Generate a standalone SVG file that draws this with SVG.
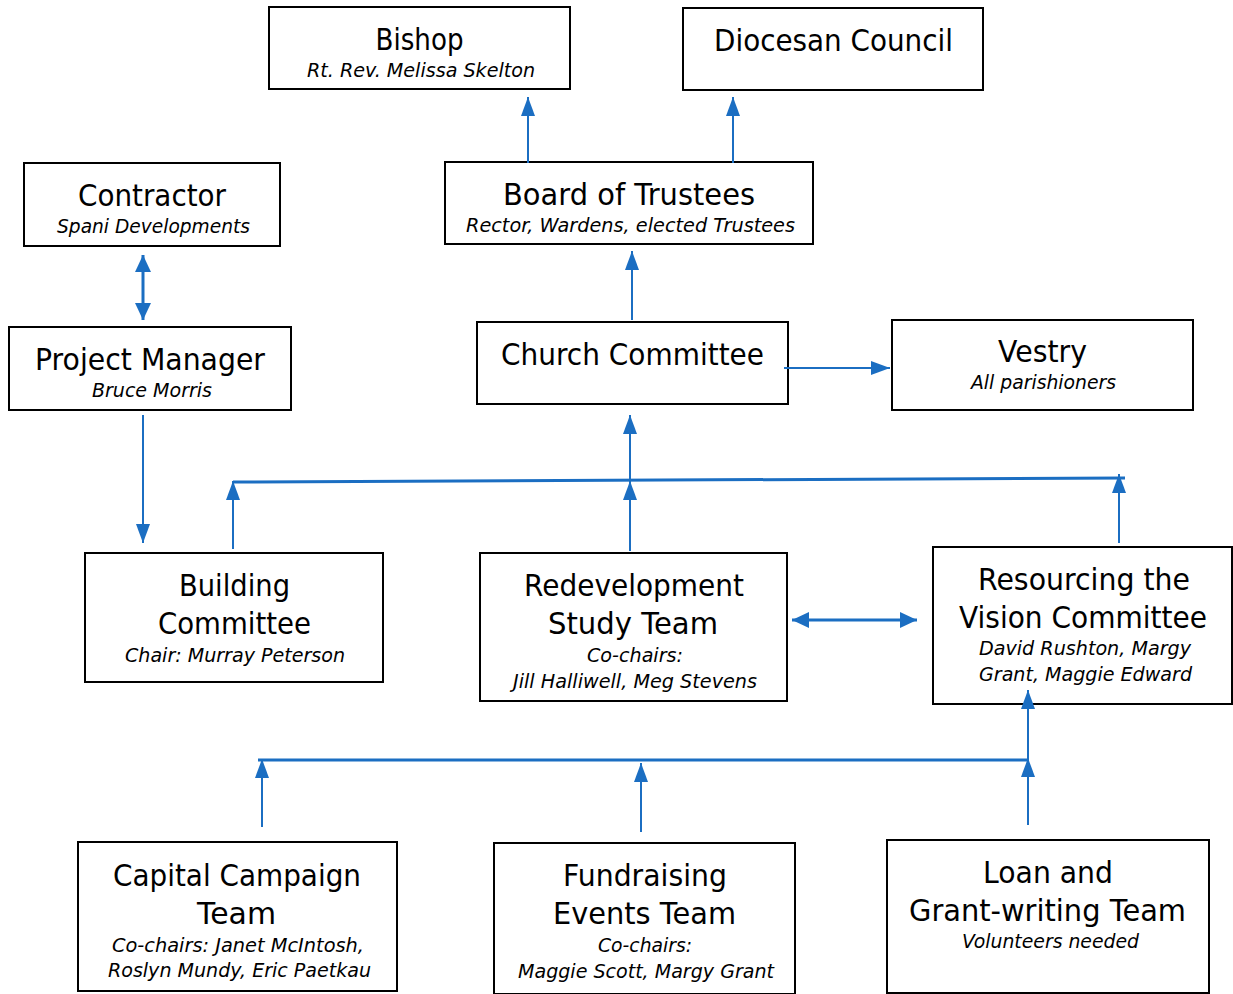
<svg xmlns="http://www.w3.org/2000/svg" width="1233" height="994" viewBox="0 0 1233 994">
<style>
.box{fill:#fff;stroke:#000;stroke-width:2}
.t{font-family:"DejaVu Sans","Liberation Sans",sans-serif;font-size:30px;fill:#000;text-anchor:middle}
.s{font-family:"DejaVu Sans","Liberation Sans",sans-serif;font-size:20px;font-style:italic;fill:#000;text-anchor:middle}
.c{stroke:#1B6EC2;stroke-width:2;fill:none}
.k{stroke:#1B6EC2;stroke-width:3;fill:none}
</style>
<defs>
<marker id="a" markerUnits="userSpaceOnUse" markerWidth="19" markerHeight="14" refX="19" refY="7" orient="auto-start-reverse"><path d="M0,0 L19,7 L0,14 z" fill="#1B6EC2"/></marker>
<marker id="b" markerUnits="userSpaceOnUse" markerWidth="17" markerHeight="16" refX="17" refY="8" orient="auto-start-reverse"><path d="M0,0 L17,8 L0,16 z" fill="#1B6EC2"/></marker>
</defs>
<g id="bishop">
<rect class="box" x="269" y="7" width="301" height="82"/>
<text class="t" x="419.5" y="50" textLength="88" lengthAdjust="spacingAndGlyphs">Bishop</text>
<text class="s" x="421" y="77" textLength="228" lengthAdjust="spacingAndGlyphs">Rt. Rev. Melissa Skelton</text>
</g>
<g id="diocesan-council">
<rect class="box" x="683" y="8" width="300" height="82"/>
<text class="t" x="833.5" y="51" textLength="239" lengthAdjust="spacingAndGlyphs">Diocesan Council</text>
</g>
<g id="contractor">
<rect class="box" x="24" y="163" width="256" height="83"/>
<text class="t" x="152" y="206" textLength="148" lengthAdjust="spacingAndGlyphs">Contractor</text>
<text class="s" x="153.5" y="233" textLength="193" lengthAdjust="spacingAndGlyphs">Spani Developments</text>
</g>
<g id="board-of-trustees">
<rect class="box" x="445" y="162" width="368" height="82"/>
<text class="t" x="629" y="205" textLength="252" lengthAdjust="spacingAndGlyphs">Board of Trustees</text>
<text class="s" x="630.5" y="232" textLength="329" lengthAdjust="spacingAndGlyphs">Rector, Wardens, elected Trustees</text>
</g>
<g id="project-manager">
<rect class="box" x="9" y="327" width="282" height="83"/>
<text class="t" x="150" y="370" textLength="230" lengthAdjust="spacingAndGlyphs">Project Manager</text>
<text class="s" x="152" y="397" textLength="120" lengthAdjust="spacingAndGlyphs">Bruce Morris</text>
</g>
<g id="church-committee">
<rect class="box" x="477" y="322" width="311" height="82"/>
<text class="t" x="632.5" y="365" textLength="263" lengthAdjust="spacingAndGlyphs">Church Committee</text>
</g>
<g id="vestry">
<rect class="box" x="892" y="320" width="301" height="90"/>
<text class="t" x="1042.5" y="362" textLength="89" lengthAdjust="spacingAndGlyphs">Vestry</text>
<text class="s" x="1043.5" y="389" textLength="145" lengthAdjust="spacingAndGlyphs">All parishioners</text>
</g>
<g id="building-committee">
<rect class="box" x="85" y="553" width="298" height="129"/>
<text class="t" x="234.5" y="596" textLength="111" lengthAdjust="spacingAndGlyphs">Building</text>
<text class="t" x="234.5" y="634" textLength="153" lengthAdjust="spacingAndGlyphs">Committee</text>
<text class="s" x="235" y="662" textLength="220" lengthAdjust="spacingAndGlyphs">Chair: Murray Peterson</text>
</g>
<g id="redevelopment-study-team">
<rect class="box" x="480" y="553" width="307" height="148"/>
<text class="t" x="634" y="596" textLength="220" lengthAdjust="spacingAndGlyphs">Redevelopment</text>
<text class="t" x="633" y="634" textLength="170" lengthAdjust="spacingAndGlyphs">Study Team</text>
<text class="s" x="635" y="662" textLength="96" lengthAdjust="spacingAndGlyphs">Co-chairs:</text>
<text class="s" x="635" y="688" textLength="244" lengthAdjust="spacingAndGlyphs">Jill Halliwell, Meg Stevens</text>
</g>
<g id="resourcing-the-vision-committee">
<rect class="box" x="933" y="547" width="299" height="157"/>
<text class="t" x="1084" y="590" textLength="212" lengthAdjust="spacingAndGlyphs">Resourcing the</text>
<text class="t" x="1083" y="628" textLength="248" lengthAdjust="spacingAndGlyphs">Vision Committee</text>
<text class="s" x="1085" y="655" textLength="212" lengthAdjust="spacingAndGlyphs">David Rushton, Margy</text>
<text class="s" x="1085.5" y="681" textLength="213" lengthAdjust="spacingAndGlyphs">Grant, Maggie Edward</text>
</g>
<g id="capital-campaign-team">
<rect class="box" x="78" y="842" width="319" height="149"/>
<text class="t" x="237" y="886" textLength="248" lengthAdjust="spacingAndGlyphs">Capital Campaign</text>
<text class="t" x="236.5" y="924" textLength="79" lengthAdjust="spacingAndGlyphs">Team</text>
<text class="s" x="238" y="952" textLength="252" lengthAdjust="spacingAndGlyphs">Co-chairs: Janet McIntosh,</text>
<text class="s" x="239.5" y="977" textLength="263" lengthAdjust="spacingAndGlyphs">Roslyn Mundy, Eric Paetkau</text>
</g>
<g id="fundraising-events-team">
<rect class="box" x="494" y="843" width="301" height="151"/>
<text class="t" x="645" y="886" textLength="164" lengthAdjust="spacingAndGlyphs">Fundraising</text>
<text class="t" x="644.5" y="924" textLength="183" lengthAdjust="spacingAndGlyphs">Events Team</text>
<text class="s" x="645" y="952" textLength="94" lengthAdjust="spacingAndGlyphs">Co-chairs:</text>
<text class="s" x="646" y="978" textLength="256" lengthAdjust="spacingAndGlyphs">Maggie Scott, Margy Grant</text>
</g>
<g id="loan-and-grant-writing-team">
<rect class="box" x="887" y="840" width="322" height="153"/>
<text class="t" x="1048" y="883" textLength="130" lengthAdjust="spacingAndGlyphs">Loan and</text>
<text class="t" x="1047.5" y="921" textLength="277" lengthAdjust="spacingAndGlyphs">Grant-writing Team</text>
<text class="s" x="1050.5" y="948" textLength="177" lengthAdjust="spacingAndGlyphs">Volunteers needed</text>
</g>
<g id="connectors">
<line class="c" x1="528" y1="163" x2="528" y2="97" marker-end="url(#a)"/>
<line class="c" x1="733" y1="163" x2="733" y2="97" marker-end="url(#a)"/>
<line class="k" x1="143" y1="255" x2="143" y2="320" marker-start="url(#b)" marker-end="url(#b)"/>
<line class="c" x1="143" y1="415" x2="143" y2="543" marker-end="url(#a)"/>
<line class="c" x1="632" y1="320" x2="632" y2="251" marker-end="url(#a)"/>
<line class="c" x1="784" y1="368" x2="890" y2="368" marker-end="url(#a)"/>
<line class="k" x1="233" y1="482" x2="1125" y2="478"/>
<line class="c" x1="233" y1="549" x2="233" y2="481" marker-end="url(#a)"/>
<line class="c" x1="630" y1="551" x2="630" y2="481" marker-end="url(#a)"/>
<line class="c" x1="630" y1="481" x2="630" y2="415" marker-end="url(#a)"/>
<line class="c" x1="1119" y1="543" x2="1119" y2="474" marker-end="url(#a)"/>
<line class="k" x1="792" y1="620" x2="917" y2="620" marker-start="url(#b)" marker-end="url(#b)"/>
<line class="k" x1="258" y1="760" x2="1028" y2="760"/>
<line class="c" x1="262" y1="827" x2="262" y2="759" marker-end="url(#a)"/>
<line class="c" x1="641" y1="832" x2="641" y2="763" marker-end="url(#a)"/>
<line class="c" x1="1028" y1="825" x2="1028" y2="758" marker-end="url(#a)"/>
<line class="c" x1="1028" y1="760" x2="1028" y2="690" marker-end="url(#a)"/>
</g>
</svg>
